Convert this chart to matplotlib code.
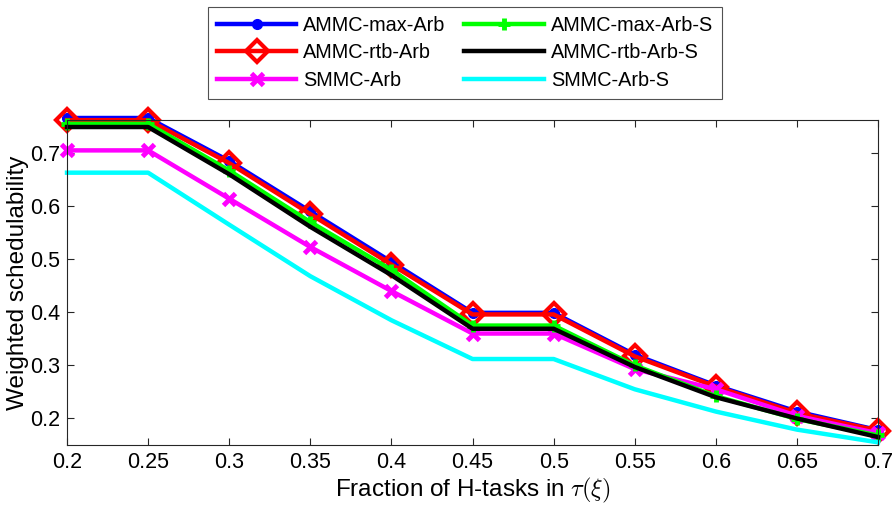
import numpy as np
import matplotlib.pyplot as plt

plt.rcParams['font.family'] = ['Liberation Sans', 'DejaVu Sans']
plt.rcParams['mathtext.fontset'] = 'cm'

# fraction of H-tasks
frac = [0.2, 0.25, 0.3, 0.35, 0.4, 0.45, 0.5, 0.55, 0.6, 0.65, 0.7]

ammc_max_arb   = [0.766, 0.766, 0.685, 0.590, 0.495, 0.399, 0.399, 0.320, 0.262, 0.213, 0.178]
ammc_rtb_arb   = [0.762, 0.762, 0.681, 0.585, 0.490, 0.396, 0.396, 0.317, 0.260, 0.210, 0.177]
smmc_arb       = [0.705, 0.705, 0.614, 0.523, 0.440, 0.360, 0.360, 0.293, 0.255, 0.205, 0.172]
ammc_max_arb_s = [0.755, 0.755, 0.667, 0.570, 0.480, 0.375, 0.375, 0.300, 0.242, 0.199, 0.168]
ammc_rtb_arb_s = [0.749, 0.749, 0.660, 0.561, 0.470, 0.369, 0.369, 0.297, 0.240, 0.200, 0.165]
smmc_arb_s     = [0.663, 0.663, 0.565, 0.468, 0.385, 0.312, 0.312, 0.255, 0.213, 0.179, 0.155]

fig = plt.figure(figsize=(8.96, 5.09), dpi=100)
ax = fig.add_axes([0.0748, 0.1257, 0.9052, 0.6383])

lw = 3.2
l1, = ax.plot(frac, ammc_max_arb, color='#0000ff', lw=lw, marker='o', ms=7,
              label='AMMC-max-Arb', clip_on=False)
l2, = ax.plot(frac, ammc_rtb_arb, color='#ff0000', lw=lw, marker='D', ms=11,
              mfc='none', mew=3, label='AMMC-rtb-Arb', clip_on=False)
l3, = ax.plot(frac, smmc_arb, color='#ff00ff', lw=lw, marker='x', ms=8, mew=3.5,
              label='SMMC-Arb', clip_on=False)
l4, = ax.plot(frac, ammc_max_arb_s, color='#00ff00', lw=lw, marker='+', ms=9, mew=3.5,
              label='AMMC-max-Arb-S', clip_on=False)
l5, = ax.plot(frac, ammc_rtb_arb_s, color='black', lw=lw,
              label='AMMC-rtb-Arb-S', clip_on=False)
l6, = ax.plot(frac, smmc_arb_s, color='#00ffff', lw=lw,
              label='SMMC-Arb-S', clip_on=False)

ax.set_xlim(0.2, 0.7)
ax.set_ylim(0.15, 0.762)
ax.set_xticks(frac)
ax.set_xticklabels(['0.2', '0.25', '0.3', '0.35', '0.4', '0.45', '0.5',
                    '0.55', '0.6', '0.65', '0.7'])
ax.set_yticks([0.2, 0.3, 0.4, 0.5, 0.6, 0.7])
ax.set_yticklabels(['0.2', '0.3', '0.4', '0.5', '0.6', '0.7'])
ax.tick_params(direction='in', top=True, right=True, labelsize=15.5, length=5,
               width=0.8, colors='#262626', labelcolor='black', pad=5)
for s in ax.spines.values():
    s.set_color('#262626')
    s.set_linewidth(0.8)

ax.set_xlabel(r'Fraction of H-tasks in $\tau(\xi)$', fontsize=17.5, labelpad=2)
ax.set_ylabel('Weighted schedulability', fontsize=17.5, labelpad=1)

leg = fig.legend(handles=[l1, l2, l3, l4, l5, l6], ncol=2, loc='upper center',
                 bbox_to_anchor=(465/896, 1 - 7/509),
                 fontsize=14.3, frameon=True, fancybox=False, edgecolor='#262626',
                 handlelength=4.0, borderaxespad=0, columnspacing=0.95,
                 labelspacing=0.42, handletextpad=0.35, borderpad=0.45)
leg.get_frame().set_linewidth(0.8)

plt.savefig('out.png', dpi=100)
